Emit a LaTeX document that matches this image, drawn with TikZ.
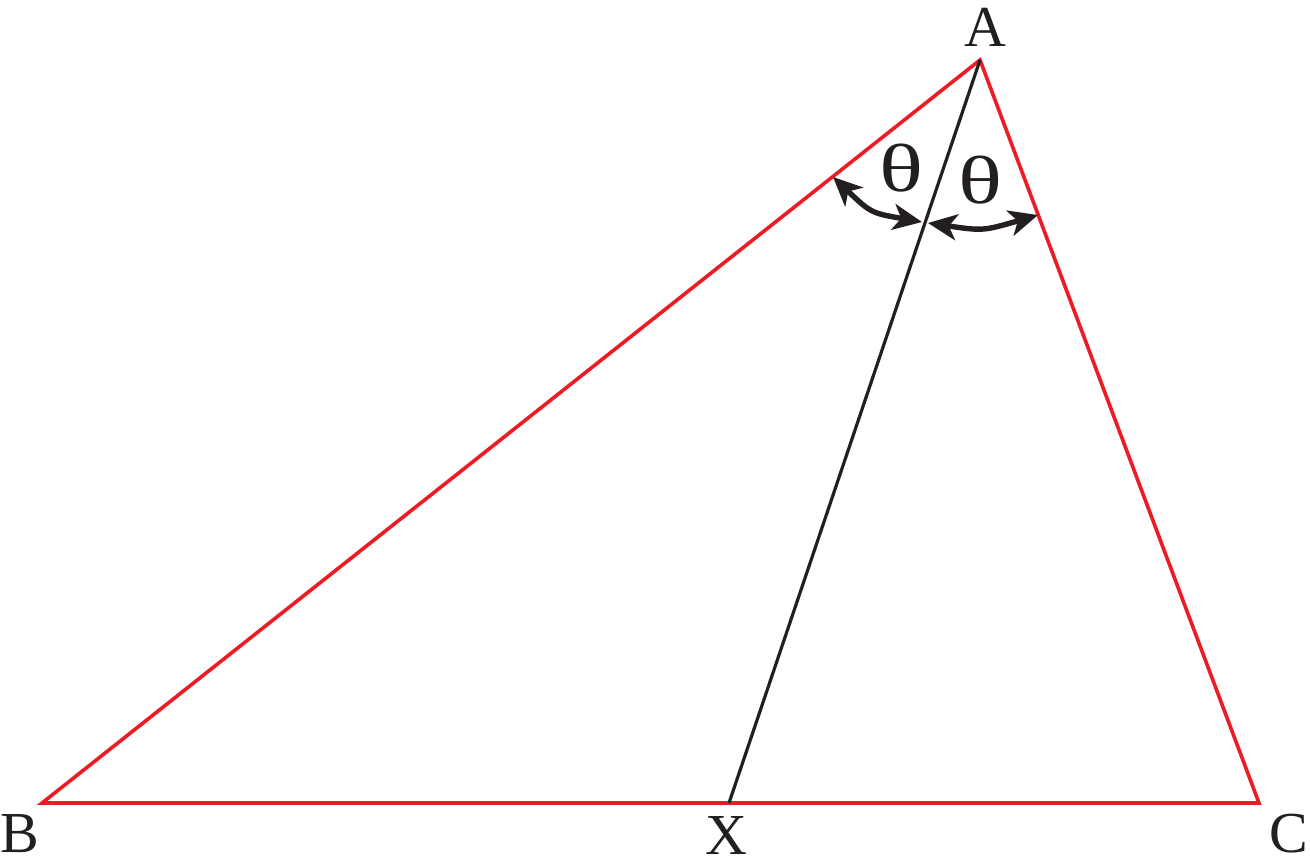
\documentclass[tikz,border=0pt]{standalone}
\usepackage{fontspec}
\setmainfont{Liberation Serif}
\usetikzlibrary{arrows.meta}
\definecolor{tred}{RGB}{237,28,36}
\definecolor{tblack}{RGB}{35,31,32}
\tikzset{
  side/.style={draw=tred, line width=1.8pt, line join=miter},
  cevian/.style={draw=tblack, line width=1.6pt},
  anglearrow/.style={draw=tblack, line width=2.7pt,
    {Stealth[length=14.5pt,width=13pt,inset=4pt]}-{Stealth[length=14.5pt,width=13pt,inset=4pt]}},
  vlabel/.style={inner sep=0pt, text=tblack, font=\fontsize{29}{30}\selectfont},
  tlabel/.style={inner sep=0pt, text=tblack, xscale=1.35, font=\fontsize{34}{35}\selectfont}
}
\begin{document}
\begin{tikzpicture}[x=0.5pt,y=-0.5pt]
\useasboundingbox (0,0) rectangle (1310,864);
% vertices
\coordinate (A) at (980,60);
\coordinate (B) at (42,803);
\coordinate (C) at (1259,803);
\coordinate (X) at (729,803);
% sides
\path[side] (B) -- (A) -- (C) -- cycle;
\draw[cevian] (A) -- (X);
% labels
\node[vlabel] (la) at (985,27) {A};
\node[vlabel] (lb) at (20,834) {B};
\node[vlabel] (lx) at (726,835) {X};
\node[vlabel] (lc) at (1289,834) {C};
\node[tlabel] (t1) at (901,168) {θ};
\node[tlabel] (t2) at (980,180) {θ};
% angle arrows
\coordinate (p1) at (833,177);
\coordinate (p2) at (922,222);
\coordinate (p3) at (928,223);
\coordinate (p4) at (1038,215);
\path[anglearrow] (p1) .. controls (871,213) .. (p2);
\path[anglearrow] (p3) .. controls (983,231) .. (p4);
\end{tikzpicture}
\end{document}
